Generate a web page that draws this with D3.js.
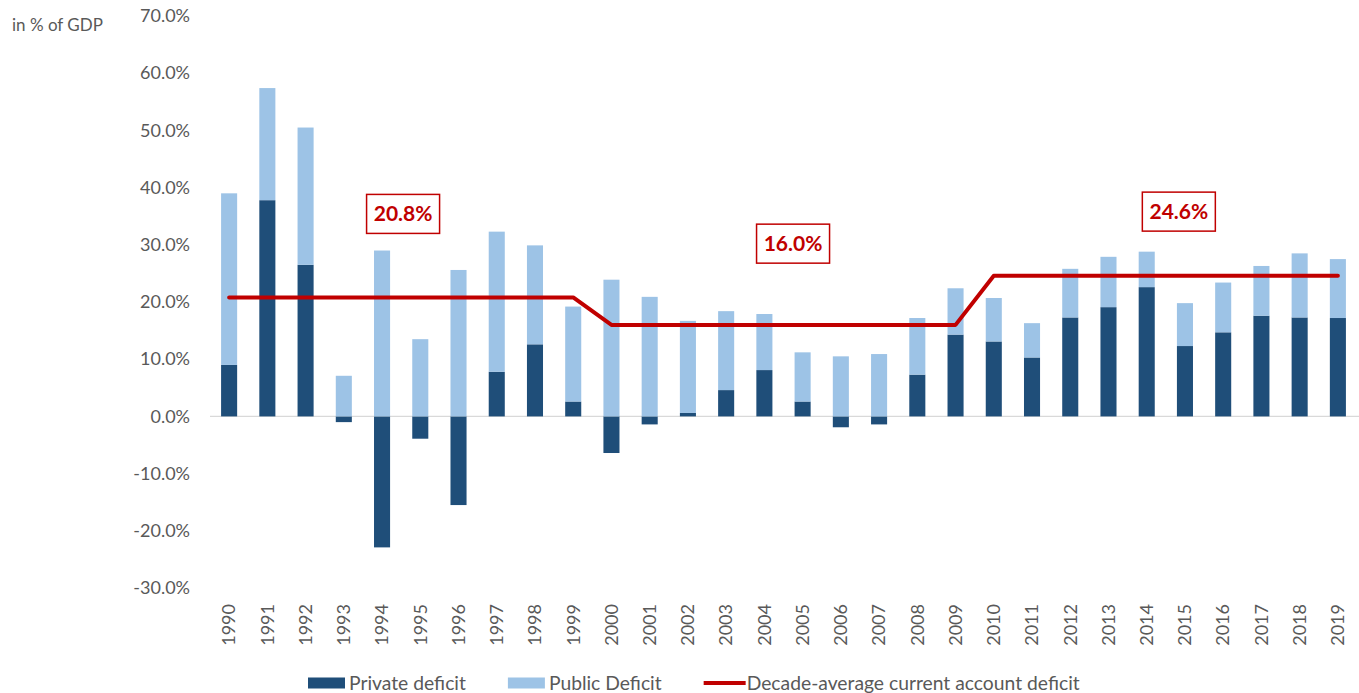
<!DOCTYPE html>
<html lang="en">
<head>
  <meta charset="UTF-8">
  <title>Private and public deficit</title>
  <script src="https://d3js.org/d3.v7.min.js"></script>
  <style>
    body {
      margin: 0;
      background: #fff;
      font-family: Lato, "Noto Sans", sans-serif;
    }
    text {
      fill: #595959;
    }
    .tick text {
      font-size: 18px;
    }
    .note text {
      fill: #c00000;
      font-weight: bold;
      font-size: 21px;
    }
  </style>
</head>
<body>
  <div id="chart"></div>

  <script>
    const years = d3.range(1990, 2020);

    const privateDeficit = [
      9.0, 37.8, 26.5, -1.0, -22.9, -3.9, -15.5, 7.8, 12.6, 2.6,
      -6.4, -1.4, 0.6, 4.6, 8.1, 2.6, -1.9, -1.4, 7.3, 14.3,
      13.1, 10.3, 17.3, 19.1, 22.6, 12.3, 14.7, 17.6, 17.3, 17.2
    ];

    const publicDeficit = [
      30.0, 19.6, 24.0, 7.1, 29.0, 13.5, 25.6, 24.5, 17.3, 16.6,
      23.9, 20.9, 16.1, 13.8, 9.8, 8.6, 10.5, 10.9, 9.9, 8.1,
      7.6, 6.0, 8.5, 8.8, 6.2, 7.5, 8.7, 8.7, 11.2, 10.3
    ];

    const decadeAverage = [
      20.8, 20.8, 20.8, 20.8, 20.8, 20.8, 20.8, 20.8, 20.8, 20.8,
      16.0, 16.0, 16.0, 16.0, 16.0, 16.0, 16.0, 16.0, 16.0, 16.0,
      24.6, 24.6, 24.6, 24.6, 24.6, 24.6, 24.6, 24.6, 24.6, 24.6
    ];

    const yTicks = [-30, -20, -10, 0, 10, 20, 30, 40, 50, 60, 70];

    // decade labels: text, year it sits next to, and height in % of GDP
    const noteLabels = ["20.8%", "16.0%", "24.6%"];
    const noteYears = [1994, 2004, 2014];
    const noteValues = [35.4, 30.2, 35.8];

    const seriesNames = ["Private deficit", "Public Deficit", "Decade-average current account deficit"];

    const width = 1359;
    const height = 693;
    const dark = "#1f4e79";
    const light = "#9dc3e6";
    const red = "#c00000";
    const noteShift = [0.55, 0.75, 0.84];

    const rows = years.map((yr, i) => ({
      year: yr,
      priv: privateDeficit[i],
      pub: publicDeficit[i],
      avg: decadeAverage[i]
    }));

    const svg = d3.select("#chart")
      .append("svg")
      .attr("width", width)
      .attr("height", height);

    const x = d3.scaleBand()
      .domain(years)
      .range([210, 1357])
      .paddingInner(0.58)
      .paddingOuter(0.29);

    const y = d3.scaleLinear()
      .domain([-30, 70])
      .range([588, 16]);

    // zero line
    svg.append("line")
      .attr("x1", 210)
      .attr("x2", width)
      .attr("y1", y(0))
      .attr("y2", y(0))
      .attr("stroke", "#d9d9d9")
      .attr("stroke-width", 1.3);

    // y axis
    const yAxis = svg.append("g")
      .attr("transform", "translate(210,0)")
      .call(d3.axisLeft(y)
        .tickValues(yTicks)
        .tickSize(0)
        .tickPadding(20)
        .tickFormat(d => d.toFixed(1) + "%"));
    yAxis.select(".domain").remove();
    yAxis.selectAll("text").attr("fill", "#595959").style("font-family", "Lato, sans-serif");

    // x axis labels, rotated
    const xAxis = svg.append("g")
      .attr("transform", "translate(0,588)")
      .call(d3.axisBottom(x).tickSize(0).tickPadding(0));
    xAxis.select(".domain").remove();
    xAxis.selectAll("text")
      .attr("fill", "#595959")
      .style("font-family", "Lato, sans-serif")
      .attr("text-anchor", "end")
      .attr("transform", "translate(0,16) rotate(-90)")
      .attr("x", 0)
      .attr("y", 0)
      .attr("dy", "0.35em");

    // stacked bars
    const stack = d3.stack()
      .keys(["priv", "pub"])
      .offset(d3.stackOffsetDiverging);
    const layers = stack(rows);
    const colors = {priv: dark, pub: light};

    svg.append("g")
      .selectAll("g")
      .data(layers)
      .join("g")
      .attr("fill", d => colors[d.key])
      .selectAll("rect")
      .data(d => d)
      .join("rect")
      .attr("x", d => x(d.data.year))
      .attr("width", x.bandwidth())
      .attr("y", d => y(d[1]))
      .attr("height", d => y(d[0]) - y(d[1]));

    // decade average line
    const line = d3.line()
      .x(d => x(d.year) + x.bandwidth() / 2)
      .y(d => y(d.avg));

    svg.append("path")
      .datum(rows)
      .attr("fill", "none")
      .attr("stroke", red)
      .attr("stroke-width", 4)
      .attr("stroke-linejoin", "round")
      .attr("stroke-linecap", "round")
      .attr("d", line);

    // boxed labels
    const notes = svg.append("g").attr("class", "note")
      .selectAll("g")
      .data(noteLabels.map((t, i) => ({text: t, year: noteYears[i], value: noteValues[i], shift: noteShift[i]})))
      .join("g")
      .attr("transform", d => `translate(${x(d.year) + x.bandwidth() / 2 + x.step() * d.shift},${y(d.value)})`);

    notes.append("rect")
      .attr("x", -36.5)
      .attr("y", -19.5)
      .attr("width", 73)
      .attr("height", 39)
      .attr("fill", "#fff")
      .attr("stroke", red)
      .attr("stroke-width", 1.5);

    notes.append("text")
      .attr("text-anchor", "middle")
      .attr("dy", "0.36em")
      .text(d => d.text);

    // legend
    const legend = svg.append("g").attr("transform", "translate(308,683)");
    let lx = 0;
    seriesNames.forEach((name, i) => {
      const item = legend.append("g").attr("transform", `translate(${lx},0)`);
      if (i < 2) {
        item.append("rect")
          .attr("x", 0)
          .attr("y", -5.5)
          .attr("width", 37)
          .attr("height", 11)
          .attr("fill", i === 0 ? dark : light);
      } else {
        item.append("line")
          .attr("x1", 0)
          .attr("x2", 42)
          .attr("y1", 0)
          .attr("y2", 0)
          .attr("stroke", red)
          .attr("stroke-width", 4);
      }
      const t = item.append("text")
        .attr("x", i < 2 ? 41 : 43)
        .attr("dy", "0.35em")
        .style("font-size", "19.3px")
        .text(name);
      lx += (i < 2 ? 41 : 43) + t.node().getComputedTextLength() + 42;
    });

    // unit label
    svg.append("text")
      .attr("x", 12)
      .attr("y", 25)
      .attr("dy", "0.35em")
      .style("font-size", "17px")
      .text("in % of GDP");
  </script>
</body>
</html>
